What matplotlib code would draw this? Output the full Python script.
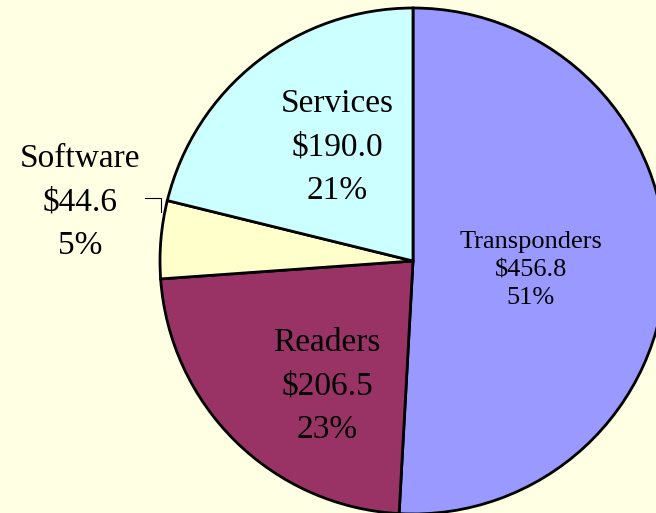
import matplotlib.pyplot as plt

# revenue by segment ($M)
labels = ['Transponders', 'Readers', 'Software', 'Services']
values = [456.8, 206.5, 44.6, 190.0]
colors = ['#9999FF', '#993366', '#FFFFCC', '#CCFFFF']
bg_color = '#FFFFE3'

# label placement in pixel coords (x, y from top), font size
label_pos = [(531, 270), (327, 386), (80, 202), (337, 147)]
label_size = [19, 24, 24, 24]
label_spacing = [1.33, 1.55, 1.55, 1.55]

W, H = 656, 513
fig = plt.figure(figsize=(W / 100, H / 100), dpi=100, facecolor=bg_color)
ax = fig.add_axes([0, 0, 1, 1])
ax.set_facecolor(bg_color)

ax.pie(values, colors=colors, startangle=90, counterclock=False,
       center=(413, H - 261), radius=253,
       wedgeprops={'edgecolor': 'black', 'linewidth': 2.0})

ax.set_xlim(0, W)
ax.set_ylim(0, H)
ax.set_aspect('auto')
ax.axis('off')

total = sum(values)
for lab, val, (x, y), fs, ls in zip(labels, values, label_pos, label_size, label_spacing):
    pct = val / total * 100
    txt = f"{lab}\n\\${val:.1f}\n{pct:.0f}%"
    ax.text(x, H - y, txt, ha='center', va='center', fontsize=fs,
            family='Liberation Serif', linespacing=ls, color='black')

# leader line for the small Software slice
ax.plot([145, 161, 161], [H - 198, H - 198, H - 212], color='black', linewidth=0.8)

fig.savefig('out.png', dpi=100, facecolor=bg_color)
